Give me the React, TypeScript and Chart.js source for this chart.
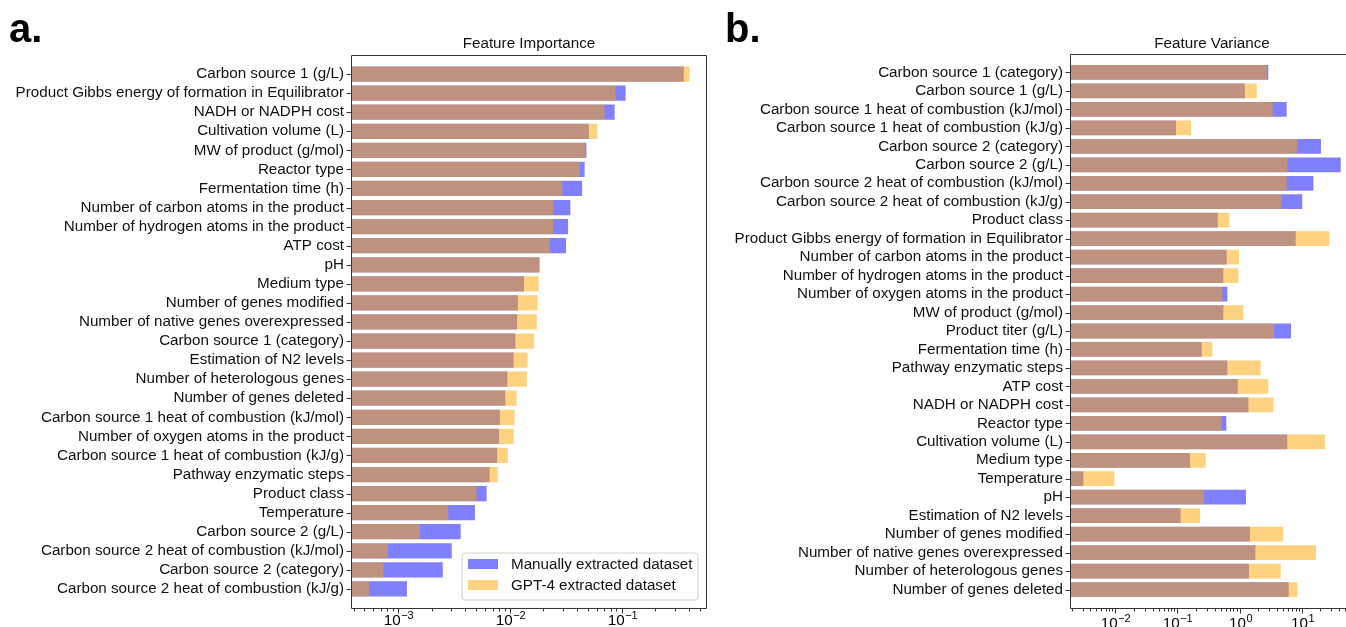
import React, { useEffect, useRef } from 'react';
import { Chart, registerables } from 'chart.js';

Chart.register(...registerables);

const FONT = '"Liberation Sans", Arial, Helvetica, sans-serif';
const FS = 15.2;

// ---- Panel a: Feature Importance ----
const importanceFeatures = [
  'Carbon source 1 (g/L)',
  'Product Gibbs energy of formation in Equilibrator',
  'NADH or NADPH cost',
  'Cultivation volume (L)',
  'MW of product (g/mol)',
  'Reactor type',
  'Fermentation time (h)',
  'Number of carbon atoms in the product',
  'Number of hydrogen atoms in the product',
  'ATP cost',
  'pH',
  'Medium type',
  'Number of genes modified',
  'Number of native genes overexpressed',
  'Carbon source 1 (category)',
  'Estimation of N2 levels',
  'Number of heterologous genes',
  'Number of genes deleted',
  'Carbon source 1 heat of combustion (kJ/mol)',
  'Number of oxygen atoms in the product',
  'Carbon source 1 heat of combustion (kJ/g)',
  'Pathway enzymatic steps',
  'Product class',
  'Temperature',
  'Carbon source 2 (g/L)',
  'Carbon source 2 heat of combustion (kJ/mol)',
  'Carbon source 2 (category)',
  'Carbon source 2 heat of combustion (kJ/g)',
];
const importanceManual = [
  0.36, 0.1086, 0.0866, 0.051, 0.0484, 0.0467, 0.0443, 0.0348, 0.0332, 0.0318,
  0.0184, 0.0134, 0.0118, 0.0116, 0.0112, 0.0108, 0.0095, 0.0091, 0.00815, 0.008,
  0.0077, 0.0066, 0.0062, 0.00487, 0.00363, 0.00302, 0.00251, 0.0012,
];
const importanceGpt = [
  0.405, 0.0883, 0.0705, 0.0607, 0.0474, 0.0422, 0.0295, 0.0245, 0.0244, 0.0228,
  0.0186, 0.0181, 0.0177, 0.0174, 0.0165, 0.0144, 0.0142, 0.0115, 0.011, 0.0108,
  0.0096, 0.0078, 0.00504, 0.00281, 0.00157, 0.00081, 0.00074, 0.00055,
];
const importanceRange = [3.87e-4, 0.569];

// ---- Panel b: Feature Variance ----
const varianceFeatures = [
  'Carbon source 1 (category)',
  'Carbon source 1 (g/L)',
  'Carbon source 1 heat of combustion (kJ/mol)',
  'Carbon source 1 heat of combustion (kJ/g)',
  'Carbon source 2 (category)',
  'Carbon source 2 (g/L)',
  'Carbon source 2 heat of combustion (kJ/mol)',
  'Carbon source 2 heat of combustion (kJ/g)',
  'Product class',
  'Product Gibbs energy of formation in Equilibrator',
  'Number of carbon atoms in the product',
  'Number of hydrogen atoms in the product',
  'Number of oxygen atoms in the product',
  'MW of product (g/mol)',
  'Product titer (g/L)',
  'Fermentation time (h)',
  'Pathway enzymatic steps',
  'ATP cost',
  'NADH or NADPH cost',
  'Reactor type',
  'Cultivation volume (L)',
  'Medium type',
  'Temperature',
  'pH',
  'Estimation of N2 levels',
  'Number of genes modified',
  'Number of native genes overexpressed',
  'Number of heterologous genes',
  'Number of genes deleted',
];
const varianceManual = [
  2.9, 1.22, 5.73, 0.0953, 20.4, 42.4, 15.4, 10.2, 0.447, 8.0,
  0.622, 0.55, 0.637, 0.55, 6.73, 0.247, 0.637, 0.935, 1.39, 0.614,
  5.87, 0.16, 0.00308, 1.27, 0.113, 1.47, 1.8, 1.42, 6.18,
];
const varianceGpt = [
  2.74, 1.89, 3.41, 0.166, 8.5, 5.87, 5.73, 4.7, 0.686, 27.8,
  0.98, 0.957, 0.53, 1.15, 3.59, 0.366, 2.19, 2.9, 3.5, 0.518,
  23.7, 0.286, 0.0097, 0.269, 0.232, 5.06, 17.0, 4.59, 8.5,
];
const varianceRange = [0.00195, 66.8];

const seriesNames = ['Manually extracted dataset', 'GPT-4 extracted dataset'];
const seriesColors = ['rgba(0,0,255,0.5)', 'rgba(255,165,0,0.5)'];

type PanelSpec = {
  letter: string;
  title: string;
  features: string[];
  manual: number[];
  gpt: number[];
  range: number[];
  width: number;
  height: number;
  plotLeft: number;
  plotRight: number;
  plotTop: number;
  plotBottom: number;
  letterX: number;
  labelBaseline: number;
  legend: boolean;
};

function makeDecor(spec: PanelSpec) {
  return {
    id: 'decor',
    afterDraw(chart: any) {
      const { ctx, chartArea: ca, scales } = chart;
      const xs = scales.x;
      const ys = scales.y;
      ctx.save();
      // frame
      ctx.strokeStyle = '#333';
      ctx.lineWidth = 1;
      const l = Math.round(ca.left) - 0.5;
      const t = Math.round(ca.top) + 0.5;
      const r = Math.round(ca.right) + 0.5;
      const b = Math.round(ca.bottom) + 0.5;
      ctx.beginPath();
      ctx.rect(l, t, r - l, b - t);
      ctx.stroke();
      // y ticks
      ctx.beginPath();
      for (let i = 1; i <= spec.features.length; i++) {
        const py = Math.round(ys.getPixelForValue(i)) + 0.5;
        ctx.moveTo(l - 5, py);
        ctx.lineTo(l, py);
      }
      ctx.stroke();
      // x ticks
      const [mn, mx] = spec.range;
      const e0 = Math.floor(Math.log10(mn));
      const e1 = Math.ceil(Math.log10(mx));
      ctx.beginPath();
      const majors: { px: number; e: number }[] = [];
      for (let e = e0; e <= e1; e++) {
        for (let m = 1; m <= 9; m++) {
          const v = m * Math.pow(10, e);
          if (v < mn || v > mx) continue;
          const px = Math.round(xs.getPixelForValue(v)) + 0.5;
          ctx.moveTo(px, b);
          ctx.lineTo(px, b + (m === 1 ? 5 : 3));
          if (m === 1) majors.push({ px, e });
        }
      }
      ctx.stroke();
      // x tick labels with superscripts
      ctx.fillStyle = '#000';
      ctx.textBaseline = 'alphabetic';
      ctx.textAlign = 'left';
      for (const { px, e } of majors) {
        const expStr = e < 0 ? '\u2212' + String(-e) : String(e);
        ctx.font = `${FS}px ${FONT}`;
        const w10 = ctx.measureText('10').width;
        ctx.font = `11px ${FONT}`;
        const we = ctx.measureText(expStr).width;
        const start = px - (w10 + we) / 2;
        ctx.font = `${FS}px ${FONT}`;
        ctx.fillText('10', start, spec.labelBaseline);
        ctx.font = `11px ${FONT}`;
        ctx.fillText(expStr, start + w10 + 0.5, spec.labelBaseline - 6.5);
      }
      // title
      ctx.font = `${FS}px ${FONT}`;
      ctx.textAlign = 'center';
      ctx.fillStyle = '#111';
      ctx.fillText(spec.title, (ca.left + ca.right) / 2, 48);
      // panel letter
      ctx.font = `bold 40px ${FONT}`;
      ctx.textAlign = 'left';
      ctx.fillStyle = '#000';
      ctx.fillText(spec.letter, spec.letterX, 42);
      // legend
      if (spec.legend) {
        const bx = 462, by = 553, bw = 236, bh = 47, rad = 3;
        ctx.beginPath();
        ctx.moveTo(bx + rad, by);
        ctx.lineTo(bx + bw - rad, by);
        ctx.quadraticCurveTo(bx + bw, by, bx + bw, by + rad);
        ctx.lineTo(bx + bw, by + bh - rad);
        ctx.quadraticCurveTo(bx + bw, by + bh, bx + bw - rad, by + bh);
        ctx.lineTo(bx + rad, by + bh);
        ctx.quadraticCurveTo(bx, by + bh, bx, by + bh - rad);
        ctx.lineTo(bx, by + rad);
        ctx.quadraticCurveTo(bx, by, bx + rad, by);
        ctx.closePath();
        ctx.fillStyle = 'rgba(255,255,255,0.8)';
        ctx.fill();
        ctx.strokeStyle = '#d0d0d0';
        ctx.stroke();
        ctx.textBaseline = 'middle';
        ctx.font = `${FS}px ${FONT}`;
        for (let k = 0; k < 2; k++) {
          const cy = 564 + k * 21;
          ctx.fillStyle = seriesColors[k];
          ctx.fillRect(468, cy - 5, 30, 10);
          ctx.fillStyle = '#111';
          ctx.fillText(seriesNames[k], 511, cy + 1);
        }
      }
      ctx.restore();
    },
  };
}

function buildConfig(spec: PanelSpec): any {
  const labels = ['', ...spec.features, ''];
  const manualData = [null, ...spec.manual, null];
  const gptData = [null, ...spec.gpt, null];
  return {
    type: 'bar',
    data: {
      labels,
      datasets: [
        {
          label: seriesNames[0],
          data: manualData,
          backgroundColor: seriesColors[0],
          borderWidth: 0,
          grouped: false,
          order: 2,
          barPercentage: 0.8,
          categoryPercentage: 1,
        },
        {
          label: seriesNames[1],
          data: gptData,
          backgroundColor: seriesColors[1],
          borderWidth: 0,
          grouped: false,
          order: 1,
          barPercentage: 0.8,
          categoryPercentage: 1,
        },
      ],
    },
    options: {
      indexAxis: 'y',
      animation: false,
      responsive: false,
      layout: {
        padding: { left: 0, top: spec.plotTop, right: spec.width - spec.plotRight, bottom: 0 },
      },
      plugins: {
        legend: { display: false },
        tooltip: { enabled: false },
        title: { display: false },
      },
      scales: {
        x: {
          type: 'logarithmic',
          position: 'bottom',
          min: spec.range[0],
          max: spec.range[1],
          grid: { display: false, drawTicks: false },
          border: { display: false },
          ticks: { display: false },
          afterFit(s: any) {
            s.height = spec.height - spec.plotBottom;
          },
        },
        y: {
          type: 'category',
          offset: false,
          grid: { display: false, drawTicks: false },
          border: { display: false },
          ticks: {
            autoSkip: false,
            padding: 8,
            color: '#111',
            font: { family: FONT, size: FS },
          },
          afterFit(s: any) {
            s.width = spec.plotLeft;
          },
        },
      },
    },
    plugins: [makeDecor(spec)],
  };
}

const panelA: PanelSpec = {
  letter: 'a.',
  title: 'Feature Importance',
  features: importanceFeatures,
  manual: importanceManual,
  gpt: importanceGpt,
  range: importanceRange,
  width: 720,
  height: 627,
  plotLeft: 352,
  plotRight: 706,
  plotTop: 55,
  plotBottom: 608,
  letterX: 9,
  labelBaseline: 625,
  legend: true,
};

const panelB: PanelSpec = {
  letter: 'b.',
  title: 'Feature Variance',
  features: varianceFeatures,
  manual: varianceManual,
  gpt: varianceGpt,
  range: varianceRange,
  width: 660,
  height: 627,
  plotLeft: 1071 - 720,
  plotRight: 1353 - 720,
  plotTop: 54,
  plotBottom: 608,
  letterX: 5,
  labelBaseline: 628,
  legend: false,
};

function Panel({ spec, left }: { spec: PanelSpec; left: number }) {
  const ref = useRef<HTMLCanvasElement | null>(null);
  useEffect(() => {
    if (!ref.current) return;
    const chart = new Chart(ref.current, buildConfig(spec));
    return () => chart.destroy();
  }, [spec]);
  return (
    <div style={{ position: 'absolute', left, top: 0, width: spec.width, height: spec.height }}>
      <canvas
        ref={ref}
        width={spec.width}
        height={spec.height}
        style={{ width: spec.width, height: spec.height, display: 'block' }}
      />
    </div>
  );
}

export default function App() {
  return (
    <div
      style={{
        position: 'fixed',
        left: 0,
        top: 0,
        width: 1346,
        height: 627,
        overflow: 'hidden',
        background: '#fff',
      }}
    >
      <Panel spec={panelA} left={0} />
      <Panel spec={panelB} left={720} />
    </div>
  );
}
